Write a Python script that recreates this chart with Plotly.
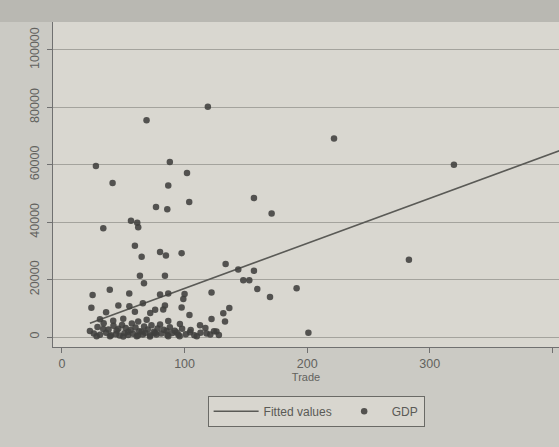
import plotly.graph_objects as go

# Scatter data: Trade (x) and GDP (y)
trade = [
    119, 69, 27.7, 88, 102, 41.3, 86.7, 103.8, 76.7, 85.9, 56.3, 61.4, 62.2, 33.7,
    59.5, 65, 80, 84.8, 97.6, 133.5, 143.8, 156.6, 147.9, 152.8, 159.3, 169.7, 191.4,
    63.6, 66.9, 84, 25, 39, 54.9, 86.7, 100, 99, 122, 24, 46, 55, 66, 84, 97.6, 104,
    131.6, 136.5, 122, 133, 36, 72, 76,
    221.9, 319.7, 156.6, 171, 283, 201,
    80, 59.5, 82.6, 31, 41.8, 50, 62.2, 69.1, 80, 22.8, 33.7, 44.6, 54, 65, 75.9, 85.4,
    28.3, 39.2, 50, 61, 71.8, 86.7, 96.2, 112.6, 93.6, 104.4, 118, 126, 110, 96, 86.7,
    26, 29, 31, 34, 36, 38, 40, 42, 44, 46, 47, 49, 51, 52, 54, 56, 57, 58, 60, 62, 63,
    66, 67, 68, 70, 72, 73, 75, 77, 78, 81, 83, 86, 88, 90, 92, 95, 98, 101, 105, 108,
    113, 117, 121, 124, 128,
]
gdp = [
    80200, 75500, 59600, 61000, 57100, 53700, 52800, 47000, 45300, 44500, 40500, 39800,
    38200, 37900, 31800, 28000, 29600, 28400, 29200, 25400, 23500, 23100, 19800, 19800,
    16700, 13900, 17000, 21300, 18700, 21300, 14600, 16500, 15200, 15200, 15000, 13200,
    15500, 10200, 11000, 10700, 11800, 11000, 10300, 7700, 8300, 10100, 6300, 5400, 8600,
    8400, 9500,
    69200, 60000, 48400, 43000, 26900, 1500,
    14800, 8800, 9600, 6200, 5700, 6400, 5400, 6000, 4400, 2100, 2800, 2300, 1800, 1900,
    1400, 2100, 300, 300, 200, 300, 200, 5600, 4500, 4100, 1600, 1700, 1200, 1900, 300,
    300, 300,
    1200, 3500, 800, 4800, 1500, 2600, 600, 3900, 1000, 2900, 500, 4200, 1300, 3100, 700,
    2400, 4700, 1100, 3300, 500, 2000, 900, 3700, 1500, 2600, 600, 4100, 1800, 900, 3000,
    1200, 2500, 700, 3400, 1400, 2200, 800, 2900, 1000, 2400, 600, 1500, 3100, 900, 2000,
    700,
]

# Fitted values line (linear fit)
fit_x = [22.8, 410]
fit_y = [4810, 65600]

y_ticks = [0, 20000, 40000, 60000, 80000, 100000]
y_tick_labels = ["0", "20000", "40000", "60000", "80000", "100000"]
x_ticks = [0, 100, 200, 300, 400]
x_tick_labels = ["0", "100", "200", "300", "400"]

fig = go.Figure()
fig.add_trace(go.Scatter(
    x=fit_x, y=fit_y, mode="lines", name="Fitted values",
    line=dict(color="#5a5a56", width=1.6),
))
fig.add_trace(go.Scatter(
    x=trade, y=gdp, mode="markers", name="GDP",
    marker=dict(color="#40403d", size=6.5, opacity=0.88, line=dict(width=0)),
))

fig.update_layout(
    width=559, height=447,
    margin=dict(l=53, r=0, t=22, b=100, autoexpand=False),
    paper_bgcolor="#cbcac4",
    plot_bgcolor="#d9d7d0",
    font=dict(family="Liberation Sans, Arial, sans-serif", size=12, color="#62625e"),
    showlegend=True,
    legend=dict(
        orientation="h", x=0.52, xanchor="center", y=-0.15, yanchor="top",
        bgcolor="#d8d6cf", bordercolor="#6a6a66", borderwidth=1,
        font=dict(size=12, color="#5a5a56"), itemwidth=45,
        traceorder="normal",
    ),
    xaxis=dict(
        range=[-7.3, 405.4], tickmode="array", tickvals=x_ticks, ticktext=x_tick_labels,
        showgrid=False, zeroline=False, showline=True, linecolor="#707070", linewidth=1,
        ticks="outside", ticklen=5, tickcolor="#707070", automargin=False,
        tickfont=dict(size=12.5),
        title=dict(text="Trade", standoff=0, font=dict(size=11)),
    ),
    yaxis=dict(
        range=[-3480, 109750], tickmode="array", tickvals=y_ticks, ticktext=y_tick_labels,
        tickangle=-90, showgrid=True, gridcolor="#a4a39d", gridwidth=1,
        zeroline=False, showline=True, linecolor="#707070", linewidth=1,
        ticks="outside", ticklen=5, tickcolor="#707070", automargin=False,
        tickfont=dict(size=12.5), ticklabelstandoff=3,
    ),
    shapes=[
        dict(type="rect", xref="paper", yref="paper", x0=-0.2, x1=1.0, y0=1.0, y1=1.07,
             fillcolor="#b9b8b2", line=dict(width=0), layer="below"),
    ],
)

fig.write_html(
    "out.html",
    config={"displayModeBar": False},
    post_script="document.body.style.margin='0';document.body.style.background='#cbcac4';",
)
